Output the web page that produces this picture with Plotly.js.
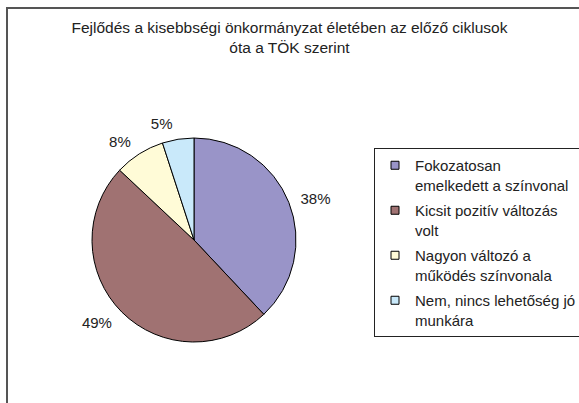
<!DOCTYPE html>
<html>
<head>
<meta charset="utf-8">
<script src="https://cdn.plot.ly/plotly-3.0.1.min.js"></script>
<style>
html,body{margin:0;padding:0;background:#fff;}
#chart{width:579px;height:403px;}
</style>
</head>
<body>
<div id="chart"></div>
<script>
var categories = [
  "Fokozatosan<br>emelkedett a színvonal",
  "Kicsit pozitív változás<br>volt",
  "Nagyon változó a<br>működés színvonala",
  "Nem, nincs lehetőség jó<br>munkára"
];
var shares = [38, 49, 8, 5];
var sliceColors = ["#9994C8", "#A07272", "#FFFBD7", "#C9E9FA"];
var chartTitle = "Fejlődés a kisebbségi önkormányzat életében az előző ciklusok<br>óta a TÖK szerint";

var W = 579, H = 403;
var FONT = "Liberation Sans, Arial, sans-serif";
var CX = 194, CY = 240, R = 102, RT = 110;

function dom(r) {
  return {x: [(CX - r) / W, (CX + r) / W], y: [(H - CY - r) / H, (H - CY + r) / H]};
}

var traces = [
  {
    // slices
    type: "pie",
    labels: categories,
    values: shares,
    sort: false,
    direction: "clockwise",
    rotation: 0,
    marker: {colors: sliceColors, line: {color: "#000", width: 1}},
    textinfo: "none",
    showlegend: false,
    hoverinfo: "none",
    domain: dom(R)
  },
  {
    // percentage labels, a little further out than the slices
    type: "pie",
    labels: categories,
    values: shares,
    sort: false,
    direction: "clockwise",
    rotation: 0,
    marker: {colors: ["rgba(0,0,0,0)", "rgba(0,0,0,0)", "rgba(0,0,0,0)", "rgba(0,0,0,0)"], line: {width: 0}},
    textinfo: "percent",
    textposition: "outside",
    outsidetextfont: {family: FONT, size: 15, color: "#222"},
    showlegend: false,
    hoverinfo: "none",
    domain: dom(RT)
  }
];

// legend entries, one per category
categories.forEach(function (c, i) {
  traces.push({
    type: "scatter",
    mode: "markers",
    x: [null], y: [null],
    name: c,
    legendgroup: "g" + i,
    marker: {symbol: "square", size: 8, color: sliceColors[i], line: {color: "#000", width: 1}},
    hoverinfo: "none",
    xaxis: "x", yaxis: "y"
  });
});

var layout = {
  width: W, height: H,
  margin: {l: 0, r: 0, t: 0, b: 0, autoexpand: false},
  paper_bgcolor: "#fff",
  plot_bgcolor: "rgba(0,0,0,0)",
  font: {family: FONT, size: 15, color: "#222"},
  title: {
    text: chartTitle,
    font: {family: FONT, size: 15.5, color: "#222"},
    x: 0.5, xanchor: "center",
    yref: "container", y: 1 - 33 / H, yanchor: "top"
  },
  xaxis: {visible: false, domain: [0, 0.01]},
  yaxis: {visible: false, domain: [0, 0.01]},
  showlegend: true,
  legend: {
    x: 374 / W, xanchor: "left",
    y: 1 - 148 / H, yanchor: "top",
    bgcolor: "#fff",
    bordercolor: "#222",
    borderwidth: 1,
    valign: "top",
    tracegroupgap: 3,
    font: {family: FONT, size: 15, color: "#222"}
  },
  shapes: [{
    type: "rect", xref: "paper", yref: "paper",
    x0: 7 / W, x1: 1.1, y0: -0.1, y1: 1 - 8 / H,
    line: {color: "#555", width: 2}
  }]
};

Plotly.newPlot("chart", traces, layout, {displayModeBar: false, staticPlot: true});
</script>
</body>
</html>
